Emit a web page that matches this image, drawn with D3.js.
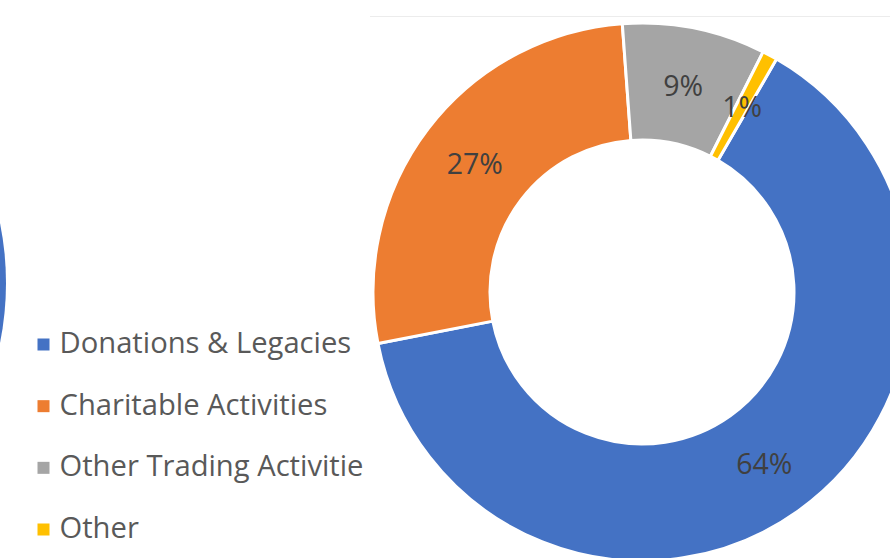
<!DOCTYPE html>
<html>
<head>
<meta charset="utf-8">
<script src="https://cdn.jsdelivr.net/npm/d3@7"></script>
<style>
  html, body { margin: 0; padding: 0; background: #fff; overflow: hidden; }
  svg { display: block; }
</style>
</head>
<body>
<script>
// income sources, share of total (%)
const categories = ["Donations & Legacies", "Charitable Activities", "Other Trading Activities", "Other"];
const legendLabels = ["Donations & Legacies", "Charitable Activities", "Other Trading Activitie", "Other"];
const values = [63.6, 26.9, 8.6, 0.9];
const colors = ["#4472C4", "#ED7D31", "#A5A5A5", "#FFC000"];

const width = 890, height = 558;
const svg = d3.select("body").append("svg").attr("width", width).attr("height", height);

// faint chart area border at the top
svg.append("line")
  .attr("x1", 370).attr("x2", width)
  .attr("y1", 16.5).attr("y2", 16.5)
  .attr("stroke", "#ececec").attr("stroke-width", 1);

// edge of the neighbouring chart, cut off on the left
svg.append("circle")
  .attr("cx", -297).attr("cy", 283).attr("r", 303)
  .attr("fill", "#4472C4");

// donut
const cx = 642, cy = 292, rOuter = 269, rInner = 152;
const data = categories.map((c, i) => ({ key: c, value: values[i] }));
const total = d3.sum(values);

const pie = d3.pie()
  .value(d => d.value)
  .sort(null)
  .startAngle(Math.PI / 6)
  .endAngle(Math.PI / 6 + 2 * Math.PI);
const arc = d3.arc().innerRadius(rInner).outerRadius(rOuter);

const g = svg.append("g").attr("transform", `translate(${cx},${cy})`);
const arcs = g.selectAll(".arc").data(pie(data)).enter().append("g").attr("class", "arc");
arcs.append("path")
  .attr("d", arc)
  .attr("fill", (d, i) => colors[i])
  .attr("stroke", "#fff")
  .attr("stroke-width", 3)
  .attr("stroke-linejoin", "round");

const fmt = d3.format(".0%");
arcs.append("text")
  .attr("transform", d => `translate(${arc.centroid(d)})`)
  .attr("text-anchor", "middle")
  .attr("dy", "0.36em")
  .attr("font-family", "Open Sans, sans-serif")
  .attr("font-size", 28.5)
  .attr("fill", "#404040")
  .text(d => fmt(d.data.value / total));

// legend
const legendY = d3.scaleLinear().domain([0, 3]).range([353, 538]);
const legend = svg.append("g");
const rows = legend.selectAll(".row").data(legendLabels).enter().append("g").attr("class", "row")
  .attr("transform", (d, i) => `translate(0,${legendY(i)})`);
rows.append("rect")
  .attr("x", 37.5).attr("y", -14.5)
  .attr("width", 12).attr("height", 12)
  .attr("fill", (d, i) => colors[i]);
rows.append("text")
  .attr("x", 59.5).attr("y", 0)
  .attr("font-family", "Open Sans, sans-serif")
  .attr("font-size", 29.2)
  .attr("fill", "#595959")
  .text(d => d);
</script>
</body>
</html>
